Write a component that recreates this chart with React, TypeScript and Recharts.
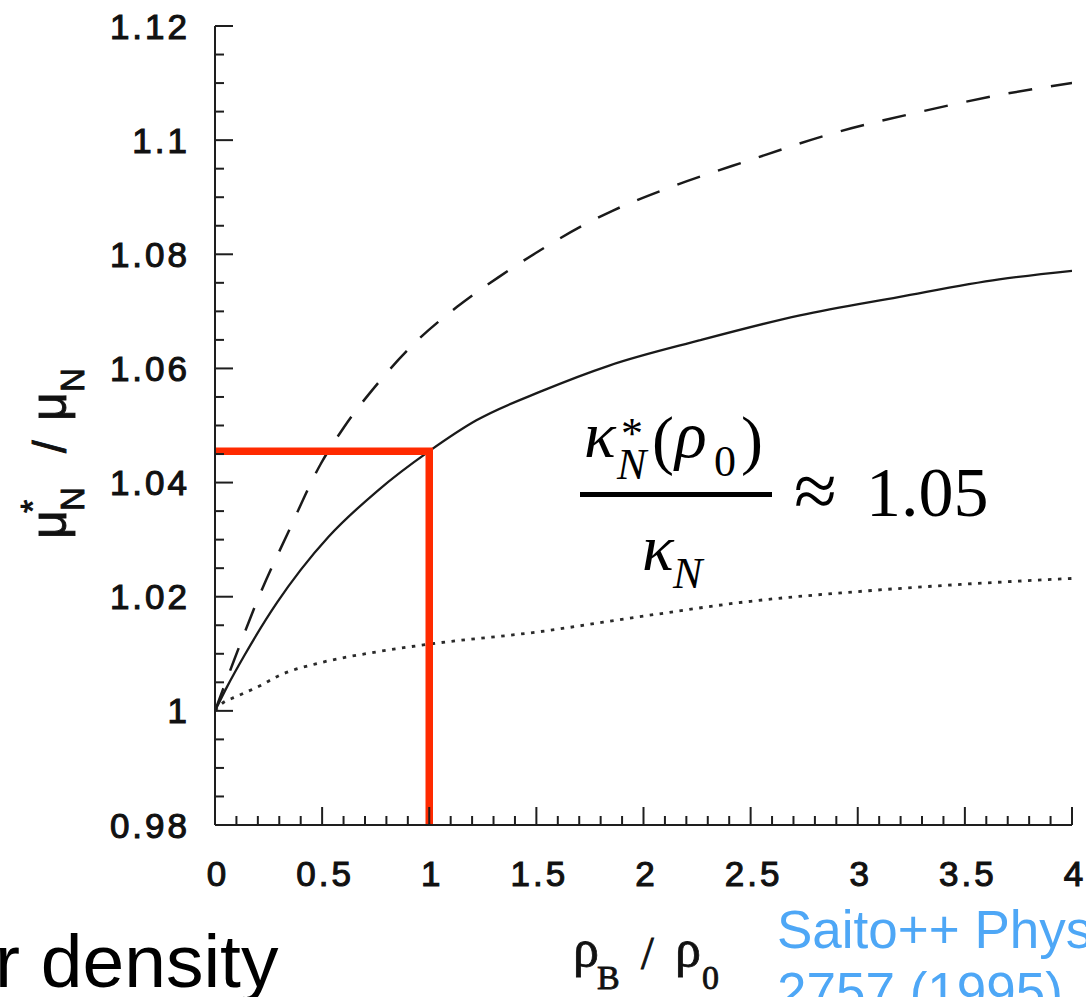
import React from 'react';
import { LineChart, Line, XAxis, YAxis } from 'recharts';

// Density ρB/ρ0 and the in-medium ratio μ*N/μN for each curve
const solidRho = [0, 0.056, 0.137, 0.29, 0.4, 0.53, 0.76, 1.0, 1.22, 1.53, 1.84, 2.26, 2.73, 3.19, 3.66, 4.0];
const solidRatio = [1.0, 1.0042, 1.0097, 1.019, 1.0247, 1.0305, 1.0386, 1.0455, 1.0509, 1.0561, 1.0605, 1.0649, 1.0693, 1.0725, 1.0756, 1.0771];

const dashedRho = [0, 0.07, 0.214, 0.338, 0.494, 0.602, 0.758, 0.936, 1.13, 1.324, 1.518, 1.72, 1.86, 2.108, 2.496, 2.884, 3.272, 3.66, 4.0];
const dashedRatio = [1.0, 1.007, 1.0208, 1.031, 1.0433, 1.0497, 1.0573, 1.0646, 1.0708, 1.076, 1.0807, 1.0851, 1.0877, 1.0915, 1.0965, 1.1012, 1.1048, 1.1079, 1.11];

const dottedRho = [0, 0.03, 0.1, 0.21, 0.3, 0.5, 0.75, 1.0, 1.5, 2.0, 2.5, 3.0, 3.5, 4.0];
const dottedRatio = [1.0, 1.0012, 1.0025, 1.0044, 1.0062, 1.0085, 1.0103, 1.0117, 1.0138, 1.0166, 1.0192, 1.0209, 1.0222, 1.0232];

// Saturation-density marker (ρB = ρ0) on the solid curve
const markerRho = 1.0;
const markerRatio = 1.0455;

const xMajorTicks = [0, 0.5, 1, 1.5, 2, 2.5, 3, 3.5, 4];
const yMajorTicks = [0.98, 1, 1.02, 1.04, 1.06, 1.08, 1.1, 1.12];
const xDomain: [number, number] = [0, 4];
const yDomain: [number, number] = [0.98, 1.12];

// minor ticks: every 0.1 on x, every 0.005 on y
const xMinorTicks = Array.from({ length: 41 }, (_, i) => i / 10);
const yMinorTicks = Array.from({ length: 29 }, (_, i) => Math.round((0.98 + i * 0.005) * 1000) / 1000);

const toPoints = (xs: number[], ys: number[]) => xs.map((x, i) => ({ x, y: ys[i] }));

const solidData = toPoints(solidRho, solidRatio);
const dashedData = toPoints(dashedRho, dashedRatio);
const dottedData = toPoints(dottedRho, dottedRatio);
const markerData = [
  { x: xDomain[0], y: markerRatio },
  { x: markerRho, y: markerRatio },
  { x: markerRho, y: yDomain[0] },
];

const W = 1086;
const H = 997;
const FRAME = '#1e1e1e';
const INK = '#1a1a1a';
const RED = '#ff2a00';
const BLUE = '#4ea7f6';
const MAJOR = 18;
const MINOR = 9;

const tickFont: React.CSSProperties = {
  fontFamily: '"Liberation Sans", Arial, sans-serif',
  fontSize: 35,
  letterSpacing: 3,
  fill: '#111',
  stroke: '#111',
  strokeWidth: 1.1,
};

const isMajor = (v: number, list: number[]) => list.some((t) => Math.abs(t - v) < 1e-6);

const BottomTick = (p: any) => {
  const { x, y, payload } = p;
  const major = isMajor(payload.value, xMajorTicks);
  return (
    <g>
      <line x1={x} y1={y} x2={x} y2={y - (major ? MAJOR : MINOR)} stroke={FRAME} strokeWidth={2} />
      {major && (
        <text x={x + 3} y={y + 61} textAnchor="middle" style={tickFont}>
          {String(payload.value)}
        </text>
      )}
    </g>
  );
};

const TopTick = (p: any) => {
  const { x, y, payload } = p;
  const major = isMajor(payload.value, xMajorTicks);
  return <line x1={x} y1={y} x2={x} y2={y + (major ? MAJOR : MINOR)} stroke={FRAME} strokeWidth={2} />;
};

const LeftTick = (p: any) => {
  const { x, y, payload } = p;
  const major = isMajor(payload.value, yMajorTicks);
  return (
    <g>
      <line x1={x} y1={y} x2={x + (major ? MAJOR : MINOR)} y2={y} stroke={FRAME} strokeWidth={2} />
      {major && (
        <text x={x - 25} y={y + 12.5} textAnchor="end" style={tickFont}>
          {String(payload.value)}
        </text>
      )}
    </g>
  );
};

const RightTick = (p: any) => {
  const { x, y, payload } = p;
  const major = isMajor(payload.value, yMajorTicks);
  return <line x1={x} y1={y} x2={x - (major ? MAJOR : MINOR)} y2={y} stroke={FRAME} strokeWidth={2} />;
};

const serif = '"Liberation Serif", "Times New Roman", serif';
const sans = '"Liberation Sans", Arial, sans-serif';

const Annotations = () => {
  const approx = markerRatio.toFixed(2);
  return (
    <svg
      width={W}
      height={H}
      style={{ position: 'absolute', left: 0, top: 0, pointerEvents: 'none', overflow: 'hidden' }}
    >
      {/* y-axis title: μ*N / μN */}
      <g transform="translate(66, 539) rotate(-90)">
        <text fill="#111" stroke="#111" strokeWidth={0.9} fontFamily={sans}>
          <tspan x={0} y={0} fontSize={50}>μ</tspan>
          <tspan x={26} y={-22} fontSize={34}>*</tspan>
          <tspan x={28} y={18} fontSize={33}>N</tspan>
          <tspan x={86} y={0} fontSize={46}>/</tspan>
          <tspan x={118} y={0} fontSize={50}>μ</tspan>
          <tspan x={147} y={18} fontSize={33}>N</tspan>
        </text>
      </g>

      {/* x-axis title: ρB / ρ0 */}
      <text fill="#111" stroke="#111" strokeWidth={0.8} fontFamily={serif}>
        <tspan x={573} y={966} fontSize={52}>ρ</tspan>
        <tspan x={597} y={989} fontSize={34}>B</tspan>
        <tspan x={641} y={969} fontSize={46}>/</tspan>
        <tspan x={675} y={966} fontSize={52}>ρ</tspan>
        <tspan x={702} y={989} fontSize={34}>0</tspan>
      </text>

      {/* ratio at saturation density */}
      <text fill="#000" fontFamily={serif}>
        <tspan x={584} y={457} fontSize={66} fontStyle="italic">κ</tspan>
        <tspan x={621} y={448} fontSize={44}>*</tspan>
        <tspan x={617} y={479} fontSize={44} fontStyle="italic">N</tspan>
        <tspan x={652} y={462} fontSize={66}>(</tspan>
        <tspan x={675} y={457} fontSize={66} fontStyle="italic">ρ</tspan>
        <tspan x={714} y={476} fontSize={44}>0</tspan>
        <tspan x={741} y={462} fontSize={66}>)</tspan>
      </text>
      <rect x={580} y={492} width={192} height={5} fill="#000" />
      <text fill="#000" fontFamily={serif}>
        <tspan x={642} y={570} fontSize={66} fontStyle="italic">κ</tspan>
        <tspan x={673} y={588} fontSize={44} fontStyle="italic">N</tspan>
      </text>
      <text fill="#000" fontFamily={serif}>
        <tspan x={794} y={517} fontSize={78}>≈</tspan>
        <tspan x={866} y={516} fontSize={70}>{approx}</tspan>
      </text>

      {/* surrounding slide text */}
      <text x={-5} y={987} fontSize={75} fontFamily={sans} fill="#000">r density</text>
      <text fontFamily={sans} fontSize={53} fill={BLUE}>
        <tspan x={777} y={948}>Saito++ Phys. Rev.</tspan>
        <tspan x={777} y={1010}>2757 (1995)</tspan>
      </text>
    </svg>
  );
};

export default function App() {
  return (
    <div style={{ position: 'absolute', left: 0, top: 0, width: W, height: H, background: '#fff' }}>
      <LineChart width={W} height={H} margin={{ top: 26, right: 14, bottom: 0, left: 0 }}>
        <XAxis
          xAxisId={0}
          type="number"
          dataKey="x"
          domain={xDomain}
          allowDataOverflow
          ticks={xMinorTicks}
          interval={0}
          tickSize={0}
          tickMargin={0}
          tickLine={false}
          height={172}
          axisLine={{ stroke: FRAME, strokeWidth: 2 }}
          tick={<BottomTick />}
        />
        <XAxis
          xAxisId="top"
          orientation="top"
          type="number"
          dataKey="x"
          domain={xDomain}
          allowDataOverflow
          ticks={xMinorTicks}
          interval={0}
          tickSize={0}
          tickMargin={0}
          tickLine={false}
          height={0}
          axisLine={{ stroke: FRAME, strokeWidth: 2 }}
          tick={<TopTick />}
        />
        <YAxis
          yAxisId={0}
          type="number"
          domain={yDomain}
          allowDataOverflow
          ticks={yMinorTicks}
          interval={0}
          tickSize={0}
          tickMargin={0}
          tickLine={false}
          width={215}
          axisLine={{ stroke: FRAME, strokeWidth: 2 }}
          tick={<LeftTick />}
        />
        <YAxis
          yAxisId="right"
          orientation="right"
          type="number"
          domain={yDomain}
          allowDataOverflow
          ticks={yMinorTicks}
          interval={0}
          tickSize={0}
          tickMargin={0}
          tickLine={false}
          width={0}
          axisLine={{ stroke: FRAME, strokeWidth: 2 }}
          tick={<RightTick />}
        />
        <Line
          data={dottedData}
          dataKey="y"
          type="monotone"
          stroke="#2a2a2a"
          strokeWidth={2.8}
          strokeDasharray="3.5 6.5"
          dot={false}
          isAnimationActive={false}
        />
        <Line
          data={dashedData}
          dataKey="y"
          type="monotone"
          stroke={INK}
          strokeWidth={2.5}
          strokeDasharray="24 19"
          dot={false}
          isAnimationActive={false}
        />
        <Line
          data={solidData}
          dataKey="y"
          type="monotone"
          stroke={INK}
          strokeWidth={2.3}
          dot={false}
          isAnimationActive={false}
        />
        <Line
          data={markerData}
          dataKey="y"
          type="linear"
          stroke={RED}
          strokeWidth={7.5}
          dot={false}
          isAnimationActive={false}
        />
      </LineChart>
      <Annotations />
    </div>
  );
}
